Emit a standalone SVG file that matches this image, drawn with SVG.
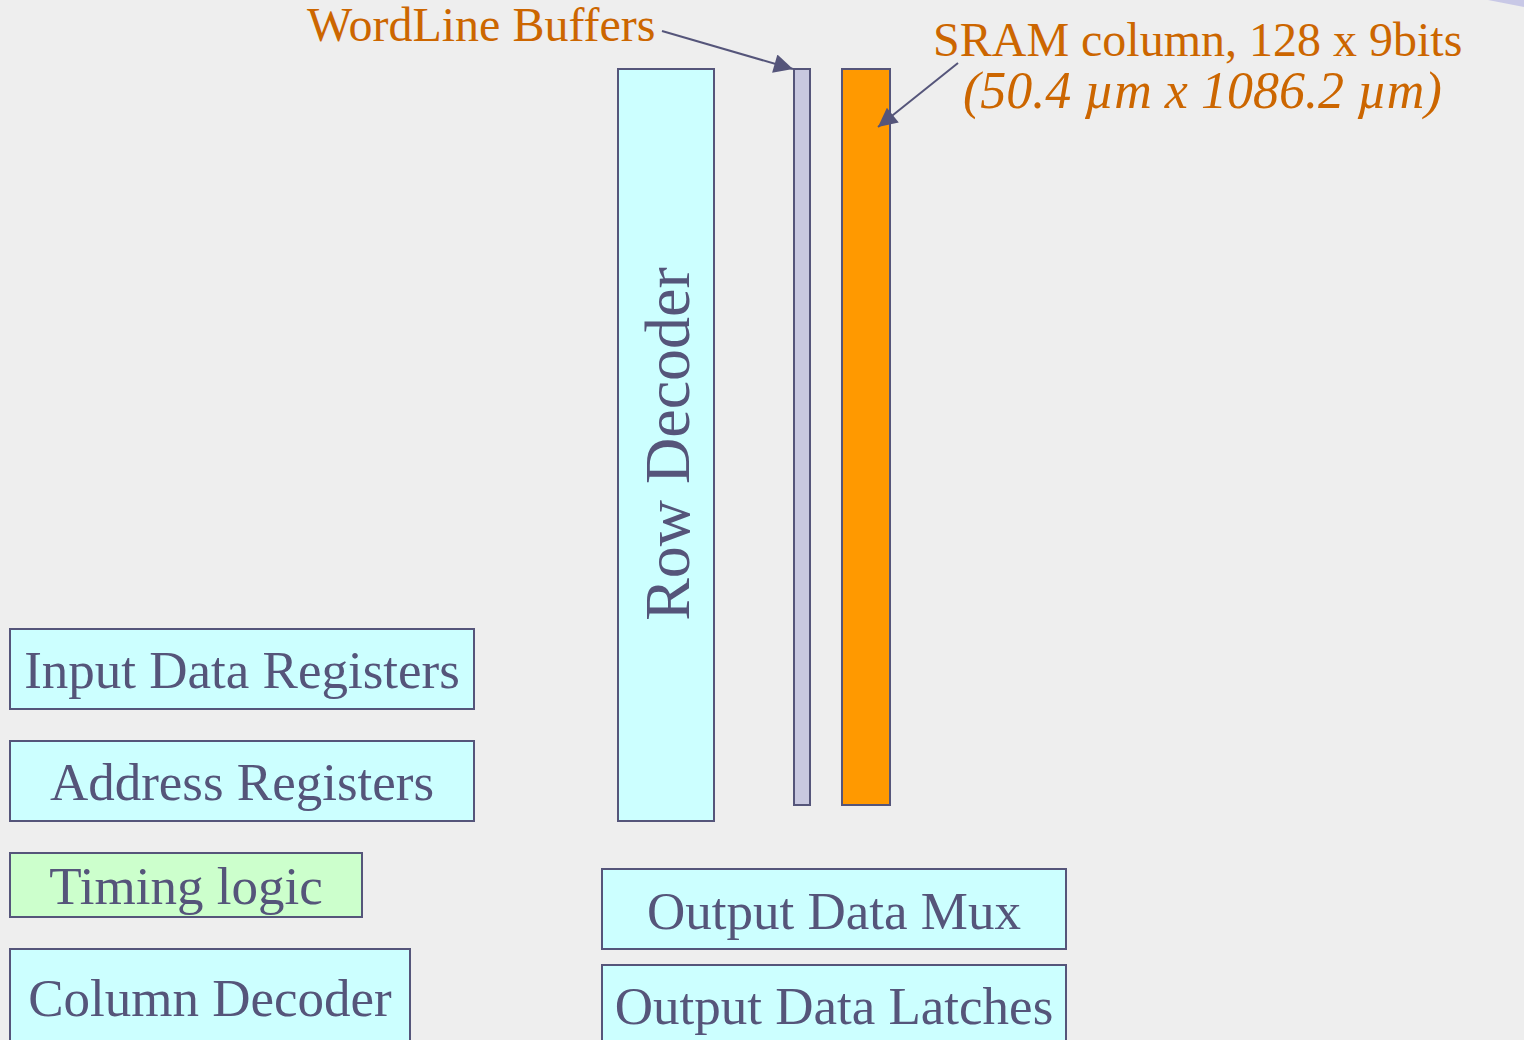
<svg xmlns="http://www.w3.org/2000/svg" width="1524" height="1040" viewBox="0 0 1524 1040">
<style>
.box{stroke:#55557a;stroke-width:2}
.cyan{fill:#ccffff}
.lbl{font-family:"Liberation Serif","Times New Roman",serif;font-size:53px;fill:#55557a;text-anchor:middle}
.note{font-family:"Liberation Serif","Times New Roman",serif;font-size:48px;fill:#cc6600}
.conn{stroke:#55557a;stroke-width:2;fill:none}
</style>
<defs>
<marker id="arrL" viewBox="0 0 10 10" refX="10" refY="5" markerWidth="24" markerHeight="19" markerUnits="userSpaceOnUse" orient="auto">
<path d="M0,0 L10,5 L0,10 z" fill="#55557a"/>
</marker>
</defs>
<rect x="0" y="0" width="1524" height="1040" fill="#eeeeee"/>
<path d="M1488,0 L1524,0 L1524,7 Z" fill="#c8c8e6"/>

<g id="row-decoder">
<rect class="box cyan" x="618" y="69" width="96" height="752"/>
<text class="lbl" style="font-size:64px" transform="translate(689,444) rotate(-90)">Row Decoder</text>
</g>
<g id="wordline-buffers">
<rect class="box" fill="#c8c8e0" x="794" y="69" width="16" height="736"/>
</g>
<g id="sram-column">
<rect class="box" fill="#ff9900" x="842" y="69" width="48" height="736"/>
</g>
<g id="wordline-label">
<text class="note" x="307" y="41">WordLine Buffers</text>
</g>
<g id="sram-label">
<text class="note" x="933" y="56">SRAM column, 128 x 9bits</text>
<text class="note" x="963" y="108" style="font-style:italic;font-size:52px">(50.4 µm x 1086.2 µm)</text>
</g>
<g id="input-data-registers">
<rect class="box cyan" x="10" y="629" width="464" height="80"/>
<text class="lbl" x="242" y="688">Input Data Registers</text>
</g>
<g id="address-registers">
<rect class="box cyan" x="10" y="741" width="464" height="80"/>
<text class="lbl" x="242" y="800">Address Registers</text>
</g>
<g id="timing-logic">
<rect class="box" fill="#ccffcc" x="10" y="853" width="352" height="64"/>
<text class="lbl" x="186" y="904">Timing logic</text>
</g>
<g id="column-decoder">
<rect class="box cyan" x="10" y="949" width="400" height="100"/>
<text class="lbl" x="210" y="1016">Column Decoder</text>
</g>
<g id="output-data-mux">
<rect class="box cyan" x="602" y="869" width="464" height="80"/>
<text class="lbl" x="834" y="929">Output Data Mux</text>
</g>
<g id="output-data-latches">
<rect class="box cyan" x="602" y="965" width="464" height="90"/>
<text class="lbl" x="834" y="1024">Output Data Latches</text>
</g>

<g id="connectors">
<line class="conn" x1="662" y1="31" x2="793" y2="69" marker-end="url(#arrL)"/>
<line class="conn" x1="958" y1="63" x2="878" y2="127" marker-end="url(#arrL)"/>
</g>
</svg>
